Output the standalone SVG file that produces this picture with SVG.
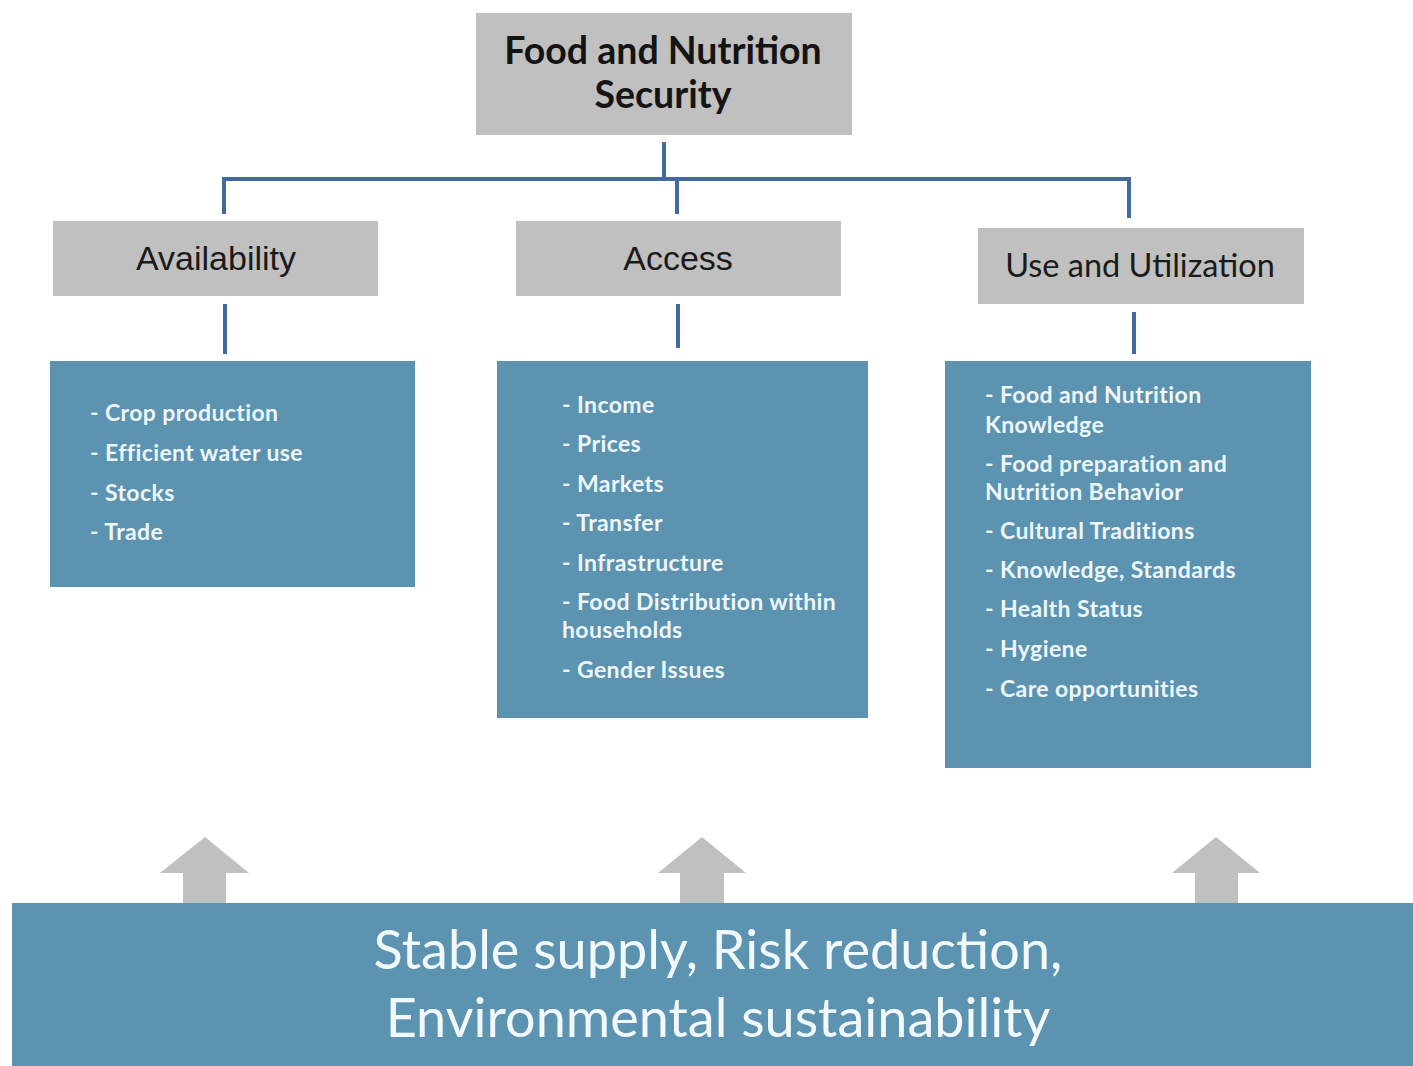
<svg xmlns="http://www.w3.org/2000/svg" width="1413" height="1066" viewBox="0 0 1413 1066">
<style>
.gray{fill:#c0c0c0}
.blue{fill:#5b93b0}
.conn{stroke:#44699c;stroke-width:4;fill:none}
.arrow{fill:#c0c0c0}
.title{font-family:Lato,"Liberation Sans",sans-serif;font-weight:bold;font-size:37.5px;fill:#141414;text-anchor:middle}
.head{font-family:"Liberation Sans",Arial,sans-serif;font-size:34px;fill:#1a1a1a;text-anchor:middle}
.head2{font-family:Lato,"Liberation Sans",sans-serif;font-size:32.5px;fill:#1a1a1a;text-anchor:middle}
.item{font-family:Lato,"Liberation Sans",sans-serif;font-weight:bold;font-size:23px;letter-spacing:0.4px;fill:#eef6fa}
.band{font-family:Lato,"Liberation Sans",sans-serif;font-size:54px;fill:#f2f9fc;text-anchor:middle}
</style>
<rect width="1413" height="1066" fill="#ffffff"/>
<g id="connectors">
<line class="conn" x1="664" y1="142" x2="664" y2="179"/>
<line class="conn" x1="222" y1="179" x2="1131" y2="179"/>
<line class="conn" x1="224" y1="177" x2="224" y2="214"/>
<line class="conn" x1="677" y1="177" x2="677" y2="214"/>
<line class="conn" x1="1129" y1="177" x2="1129" y2="218"/>
<line class="conn" x1="225" y1="304" x2="225" y2="354"/>
<line class="conn" x1="678" y1="304" x2="678" y2="348"/>
<line class="conn" x1="1134" y1="312" x2="1134" y2="354"/>
</g>
<g id="food-nutrition-security">
<rect class="gray" x="476" y="13" width="376" height="122"/>
<text class="title" x="663" y="64">Food and Nutrition</text>
<text class="title" x="663" y="108">Security</text>
</g>
<g id="availability">
<rect class="gray" x="53" y="221" width="325" height="75"/>
<text class="head" x="216" y="270">Availability</text>
</g>
<g id="access">
<rect class="gray" x="516" y="221" width="325" height="75"/>
<text class="head" x="678" y="270">Access</text>
</g>
<g id="use-utilization">
<rect class="gray" x="978" y="228" width="326" height="76"/>
<text class="head2" x="1140" y="277">Use and Utilization</text>
</g>
<g id="availability-items">
<rect class="blue" x="50" y="361" width="365" height="226"/>
<text class="item" x="90" y="421">- Crop production</text>
<text class="item" x="90" y="461">- Efficient water use</text>
<text class="item" x="90" y="501">- Stocks</text>
<text class="item" x="90" y="540">- Trade</text>
</g>
<g id="access-items">
<rect class="blue" x="497" y="361" width="371" height="357"/>
<text class="item" x="562" y="413">- Income</text>
<text class="item" x="562" y="452">- Prices</text>
<text class="item" x="562" y="492">- Markets</text>
<text class="item" x="562" y="531">- Transfer</text>
<text class="item" x="562" y="571">- Infrastructure</text>
<text class="item" x="562" y="610">- Food Distribution within</text>
<text class="item" x="562" y="638">households</text>
<text class="item" x="562" y="678">- Gender Issues</text>
</g>
<g id="use-items">
<rect class="blue" x="945" y="361" width="366" height="407"/>
<text class="item" x="985" y="403">- Food and Nutrition</text>
<text class="item" x="985" y="433">Knowledge</text>
<text class="item" x="985" y="472">- Food preparation and</text>
<text class="item" x="985" y="500">Nutrition Behavior</text>
<text class="item" x="985" y="539">- Cultural Traditions</text>
<text class="item" x="985" y="578">- Knowledge, Standards</text>
<text class="item" x="985" y="617">- Health Status</text>
<text class="item" x="985" y="657">- Hygiene</text>
<text class="item" x="985" y="697">- Care opportunities</text>
</g>
<g id="arrows">
<polygon class="arrow" points="205,837 249,873 226,873 226,905 183,905 183,873 160,873"/>
<polygon class="arrow" points="702,837 746,873 724,873 724,905 680,905 680,873 658,873"/>
<polygon class="arrow" points="1216,837 1260,873 1238,873 1238,905 1195,905 1195,873 1172,873"/>
</g>
<g id="foundation">
<rect class="blue" x="12" y="903" width="1401" height="163"/>
<text class="band" x="718" y="969">Stable supply, Risk reduction,</text>
<text class="band" x="718" y="1037">Environmental sustainability</text>
</g>
</svg>
